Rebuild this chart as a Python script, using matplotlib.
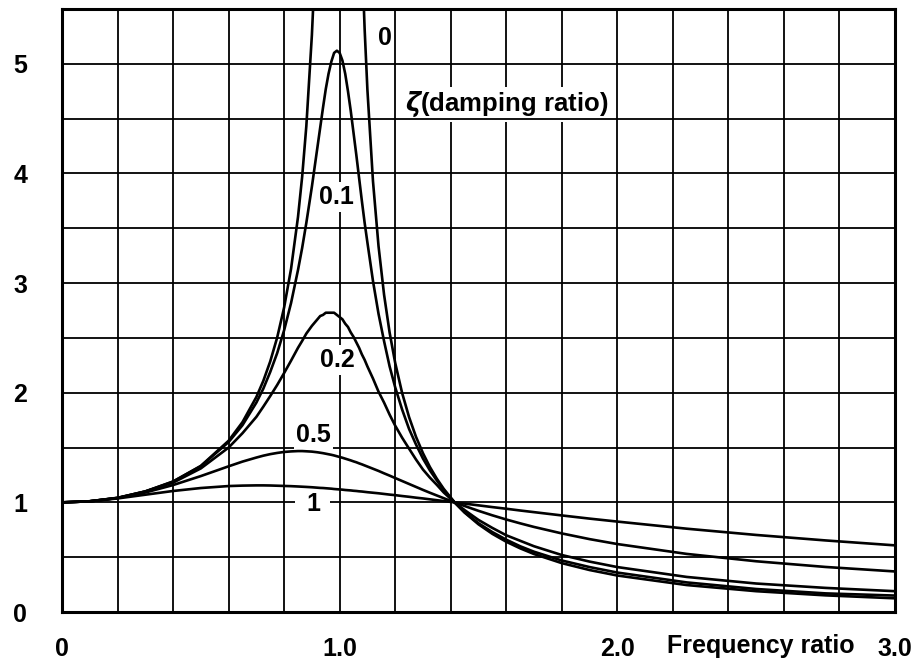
import matplotlib
matplotlib.use("Agg")
import matplotlib.pyplot as plt
import numpy as np

# frequency ratio r = w / wn
ratio = [0, 0.1, 0.2, 0.3, 0.4, 0.5, 0.6, 0.65, 0.7, 0.725, 0.75, 0.775, 0.8, 0.825, 0.85, 0.865, 0.88,
         0.9, 0.91, 0.92, 0.93, 0.94, 0.95, 0.96, 0.97, 0.98, 0.99, 1.0,
         1.01, 1.02, 1.03, 1.04, 1.05, 1.06, 1.07, 1.08, 1.09, 1.1,
         1.12, 1.14, 1.16, 1.18, 1.2, 1.225, 1.25, 1.275, 1.3, 1.325, 1.35, 1.375, 1.414,
         1.45, 1.5, 1.55, 1.6, 1.65, 1.7, 1.8, 1.9, 2.0, 2.25, 2.5, 2.75, 3.0]

# transmissibility for each damping ratio
trans_0 = [1.000, 1.010, 1.042, 1.099, 1.190, 1.333, 1.562, 1.732, 1.961, 2.108, 2.286, 2.504, 2.778, 3.131, 3.604, 3.972, 4.433,
           5.263, 5.817, 6.510, 7.402, 8.591, 10.256, 12.755, 16.920, 25.253, 50.251, np.nan,
           49.751, 24.752, 16.420, 12.255, 9.756, 8.091, 6.901, 6.010, 5.316, 4.762,
           3.931, 3.338, 2.894, 2.548, 2.273, 1.998, 1.778, 1.598, 1.449, 1.323, 1.216, 1.123, 1.000,
           0.907, 0.800, 0.713, 0.641, 0.581, 0.529, 0.446, 0.383, 0.333, 0.246, 0.190, 0.152, 0.125]
trans_01 = [1.00, 1.01, 1.04, 1.10, 1.19, 1.33, 1.55, 1.704, 1.91, 2.037, 2.19, 2.362, 2.57, 2.819, 3.12, 3.322, 3.55,
            3.88, 4.06, 4.24, 4.42, 4.60, 4.77, 4.91, 5.02, 5.10, 5.12, 5.10,
            5.03, 4.91, 4.75, 4.57, 4.37, 4.17, 3.96, 3.75, 3.55, 3.37,
            3.02, 2.72, 2.47, 2.24, 2.05, 1.847, 1.67, 1.528, 1.40, 1.292, 1.20, 1.113, 1.00,
            0.91, 0.81, 0.729, 0.66, 0.600, 0.55, 0.47, 0.41, 0.36, 0.27, 0.21, 0.17, 0.15]
trans_02 = [1.00, 1.01, 1.04, 1.10, 1.18, 1.31, 1.50, 1.631, 1.78, 1.873, 1.97, 2.071, 2.18, 2.293, 2.41, 2.473, 2.54,
            2.61, 2.64, 2.67, 2.70, 2.71, 2.73, 2.73, 2.73, 2.73, 2.71, 2.69,
            2.67, 2.63, 2.60, 2.55, 2.51, 2.46, 2.41, 2.35, 2.30, 2.24,
            2.13, 2.01, 1.91, 1.80, 1.70, 1.590, 1.49, 1.391, 1.30, 1.226, 1.16, 1.090, 1.00,
            0.93, 0.84, 0.767, 0.70, 0.650, 0.60, 0.52, 0.46, 0.41, 0.32, 0.26, 0.22, 0.19]
trans_05 = [1.000, 1.010, 1.040, 1.090, 1.158, 1.240, 1.329, 1.372, 1.409, 1.426, 1.440, 1.451, 1.460, 1.465, 1.468, 1.468, 1.466,
            1.463, 1.460, 1.457, 1.453, 1.449, 1.444, 1.439, 1.434, 1.428, 1.421, 1.414,
            1.407, 1.399, 1.391, 1.383, 1.374, 1.366, 1.356, 1.347, 1.337, 1.327,
            1.307, 1.287, 1.265, 1.244, 1.222, 1.195, 1.168, 1.141, 1.114, 1.088, 1.063, 1.038, 1.000,
            0.967, 0.923, 0.882, 0.844, 0.809, 0.776, 0.717, 0.665, 0.620, 0.530, 0.463, 0.411, 0.370]
trans_1 = [1.000, 1.010, 1.036, 1.070, 1.104, 1.131, 1.149, 1.153, 1.155, 1.155, 1.154, 1.152, 1.150, 1.148, 1.145, 1.143, 1.141,
           1.138, 1.136, 1.134, 1.132, 1.131, 1.129, 1.127, 1.125, 1.122, 1.120, 1.118,
           1.116, 1.113, 1.111, 1.109, 1.106, 1.104, 1.101, 1.099, 1.096, 1.093,
           1.088, 1.083, 1.077, 1.071, 1.066, 1.058, 1.051, 1.043, 1.036, 1.028, 1.020, 1.012, 1.000,
           0.989, 0.973, 0.957, 0.942, 0.926, 0.911, 0.881, 0.852, 0.825, 0.760, 0.703, 0.653, 0.608]

curves = [trans_0, trans_01, trans_02, trans_05, trans_1]
curve_labels = ["0", "0.1", "0.2", "0.5", "1"]
label_x = [1.163, 0.99, 0.99, 0.905, 0.904]
label_y = [5.24, 3.79, 2.30, 1.615, 0.985]
label_pad = [0.05, 0.12, 0.12, 0.08, 0.42]

x_ticks = [0, 1.0, 2.0, 3.0]
x_ticklabels = ["0", "1.0", "2.0", "3.0"]
y_ticks = [0, 1, 2, 3, 4, 5]

plt.rcParams["font.family"] = ["Liberation Sans", "DejaVu Sans"]
plt.rcParams["font.weight"] = "bold"

fig = plt.figure(figsize=(9.16, 6.6), dpi=100)
ax = fig.add_axes([0.0677, 0.0727, 0.9093, 0.9136])

# grid on 0.2 x 0.5 cells; the 4.5 line stays on top of the legend text box
for gx in np.arange(0.2, 3.0, 0.2):
    ax.axvline(gx, color="black", lw=1.3, zorder=1)
for gy in np.arange(0.5, 5.5, 0.5):
    ax.axhline(gy, color="black", lw=1.3, zorder=3.5 if abs(gy - 4.5) < 1e-6 else 1)

for trans in curves:
    ax.plot(ratio, trans, color="black", lw=1.9, zorder=4)

for text, lx, ly, pad in zip(curve_labels, label_x, label_y, label_pad):
    ax.text(lx, ly, text, fontsize=18, fontweight="bold", ha="center", va="center",
            zorder=3, bbox=dict(boxstyle="square,pad=%s" % pad, fc="white", ec="none"))

ax.text(1.235, 4.63, r"$\zeta$(damping ratio)", fontsize=18.5, fontweight="bold",
        ha="left", va="center", zorder=3,
        bbox=dict(boxstyle="square,pad=0.1", fc="white", ec="none"))

ax.set_xlim(0, 3.0)
ax.set_ylim(0, 5.5)
ax.set_xticks(x_ticks)
ax.set_xticklabels(x_ticklabels)
ax.set_yticks(y_ticks)
ax.tick_params(length=0, labelsize=18)
ax.tick_params(axis="x", pad=18)
ax.tick_params(axis="y", pad=25)
for lab in ax.get_xticklabels() + ax.get_yticklabels():
    lab.set_fontweight("bold")

ax.text(2.517, -0.056, "Frequency ratio", fontsize=18, fontweight="bold",
        ha="center", va="center", transform=ax.get_xaxis_transform())

for sp in ax.spines.values():
    sp.set_linewidth(2.2)
    sp.set_zorder(5)

plt.savefig("out.png", dpi=100)
